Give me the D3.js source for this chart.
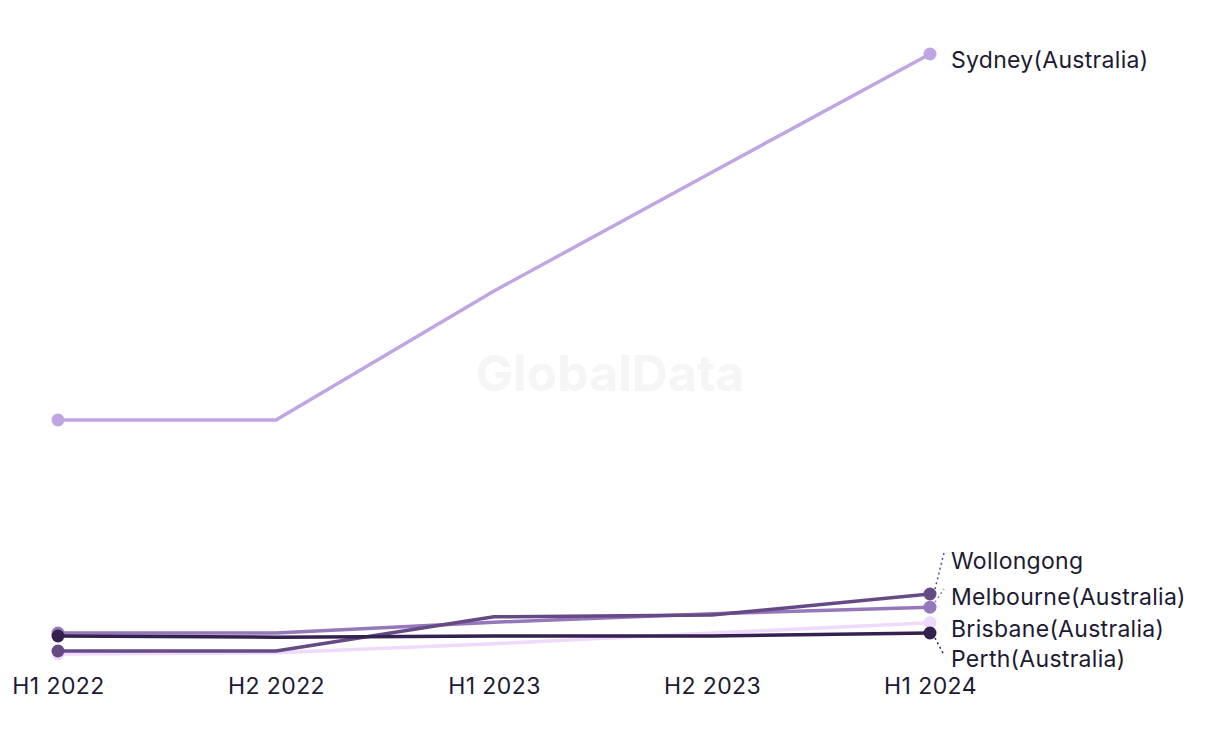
<!DOCTYPE html>
<html>
<head>
<meta charset="utf-8">
<script src="https://cdn.jsdelivr.net/npm/d3@7"></script>
<style>
  html, body { margin: 0; padding: 0; background: #ffffff; }
  svg { display: block; font-family: Inter, "Noto Sans", sans-serif; }
</style>
</head>
<body>
<svg id="chart" width="1220" height="744"></svg>
<script>
const periods = ["H1 2022", "H2 2022", "H1 2023", "H2 2023", "H1 2024"];
const seriesNames = ["Sydney(Australia)", "Brisbane(Australia)", "Melbourne(Australia)", "Wollongong", "Perth(Australia)"];
const sydney     = [39, 39, 60.5, 80.3, 100];
const brisbane   = [0, 0.2, 1.7, 3.5, 5.2];
const melbourne  = [3.5, 3.5, 5.3, 6.7, 7.8];
const wollongong = [0.5, 0.5, 6.2, 6.5, 10];
const perth      = [3, 2.8, 3, 3, 3.5];
const seriesColors = ["#bfa5e3", "#f0dafc", "#9478ba", "#664a85", "#35214f"];

const seriesValues = [sydney, brisbane, melbourne, wollongong, perth];
const series = seriesNames.map((n, i) => ({ name: n, values: seriesValues[i], color: seriesColors[i] }));

const svg = d3.select("#chart");

// watermark
svg.append("text")
  .attr("x", 610).attr("y", 391)
  .attr("text-anchor", "middle")
  .attr("font-size", 50).attr("font-weight", 700)
  .attr("fill", "#f5f5f5")
  .text("GlobalData");

const x = d3.scalePoint().domain(periods).range([58, 930]);
const y = d3.scaleLinear()
  .domain([0, d3.max(seriesValues.flat())])
  .range([654, 54]);

const xAxis = d3.axisBottom(x).tickSize(0).tickPadding(0);
const gx = svg.append("g").attr("transform", "translate(0,686)").call(xAxis);
gx.select(".domain").remove();
gx.selectAll("text")
  .attr("font-size", 23).attr("fill", "#1d1a33")
  .attr("letter-spacing", "0.4px")
  .attr("font-family", "Inter, 'Noto Sans', sans-serif")
  .attr("dy", "0.35em");

const line = d3.line().x((d, i) => x(periods[i])).y(d => y(d));

series.forEach(s => {
  const g = svg.append("g");
  g.append("path")
    .attr("d", line(s.values))
    .attr("fill", "none")
    .attr("stroke", s.color)
    .attr("stroke-width", 3.5)
    .attr("stroke-linejoin", "round");
  g.append("circle")
    .attr("cx", x(periods[0])).attr("cy", y(s.values[0]))
    .attr("r", 6.5).attr("fill", s.color);
  g.append("circle")
    .attr("cx", x(periods[periods.length - 1])).attr("cy", y(s.values[s.values.length - 1]))
    .attr("r", 6.5).attr("fill", s.color);
});

// end labels (label y placement avoids overlap)
const labelY = {
  "Sydney(Australia)": y(sydney[4]) + 6,
  "Wollongong": 561,
  "Melbourne(Australia)": 597,
  "Brisbane(Australia)": 629,
  "Perth(Australia)": 659
};
const labelX = 951;
series.forEach(s => {
  const py = y(s.values[s.values.length - 1]);
  const ly = labelY[s.name];
  if (Math.abs(ly - py) > 8) {
    const sx = x(periods[4]);
    const up = ly < py;
    svg.append("line")
      .attr("x1", sx + 5).attr("y1", py + (up ? -5 : 5))
      .attr("x2", labelX - 7).attr("y2", ly + (up ? -8 : -4))
      .attr("stroke", s.color)
      .attr("stroke-width", 1.5)
      .attr("stroke-dasharray", "2,3");
  }
  svg.append("text")
    .attr("x", labelX).attr("y", ly)
    .attr("dy", "0.35em")
    .attr("font-size", 23)
    .attr("letter-spacing", "0.3px")
    .attr("fill", "#1d1a33")
    .text(s.name);
});
</script>
</body>
</html>
